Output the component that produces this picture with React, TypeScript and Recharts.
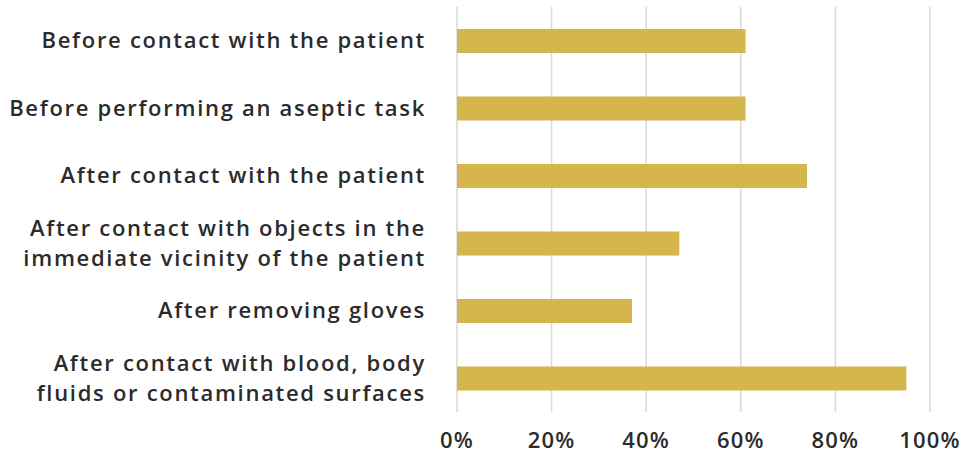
import { BarChart, Bar, XAxis, YAxis, CartesianGrid } from "recharts";

const categories = [
  "Before contact with the patient",
  "Before performing an aseptic task",
  "After contact with the patient",
  "After contact with objects in the\nimmediate vicinity of the patient",
  "After removing gloves",
  "After contact with blood, body\nfluids or contaminated surfaces",
];

const shares = [61, 61, 74, 47, 37, 95];

const xTicks = [0, 20, 40, 60, 80, 100];

const data = categories.map((name, i) => ({ name, value: shares[i] }));

const FONT = "'Open Sans', sans-serif";
const TEXT = "#2b2b2b";

function CategoryTick({ x, y, payload }: any) {
  const lines = String(payload.value).split("\n");
  const lineHeight = 30;
  const start = -((lines.length - 1) * lineHeight) / 2;
  return (
    <text
      x={x}
      y={y}
      textAnchor="end"
      fill={TEXT}
      fontFamily={FONT}
      fontSize={22}
      fontWeight={600}
      letterSpacing={1.7}
    >
      {lines.map((line, i) => (
        <tspan key={i} x={x} y={y + start + i * lineHeight} dy="0.35em">
          {line}
        </tspan>
      ))}
    </text>
  );
}

export default function App() {
  return (
    <div style={{ position: "absolute", left: 0, top: 0, background: "#fff" }}>
      <BarChart
        width={966}
        height={455}
        data={data}
        layout="vertical"
        margin={{ top: 7, right: 36, bottom: 0, left: 0 }}
        barCategoryGap="32.5%"
      >
        <CartesianGrid horizontal={false} stroke="#d9d9d9" strokeWidth={1.5} />
        <XAxis
          type="number"
          domain={[0, 100]}
          ticks={xTicks}
          tickFormatter={(v: number) => `${v}%`}
          axisLine={false}
          tickLine={false}
          tickSize={0}
          tickMargin={20}
          height={43}
          interval={0}
          tick={{
            fill: TEXT,
            fontSize: 22,
            fontFamily: FONT,
            fontWeight: 600,
            letterSpacing: 1.2,
          }}
        />
        <YAxis
          type="category"
          dataKey="name"
          width={457}
          axisLine={false}
          tickLine={false}
          tickSize={0}
          tickMargin={31}
          interval={0}
          tick={<CategoryTick />}
        />
        <Bar dataKey="value" fill="#d4b64c" isAnimationActive={false} />
      </BarChart>
    </div>
  );
}
